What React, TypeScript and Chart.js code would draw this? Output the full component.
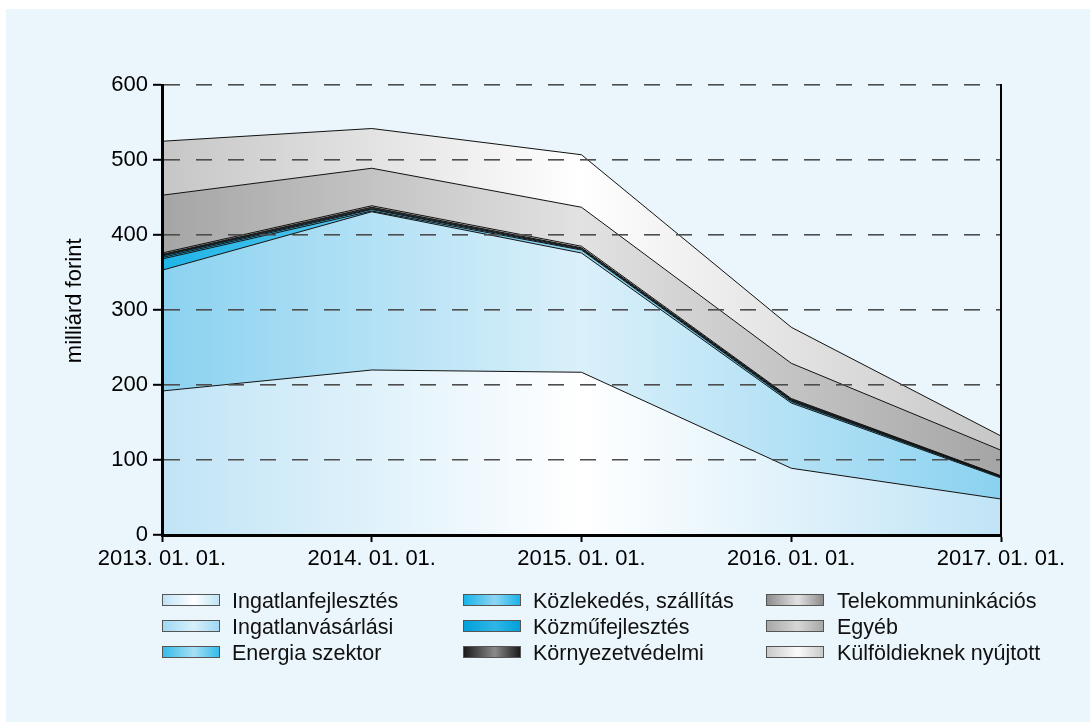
import React, { useEffect, useRef } from "react";
import { Chart, registerables } from "chart.js";

Chart.register(...registerables);

const categories = ["2013. 01. 01.", "2014. 01. 01.", "2015. 01. 01.", "2016. 01. 01.", "2017. 01. 01."];
const yTicks = [0, 100, 200, 300, 400, 500, 600];
const yTitle = "   milliárd forint";

const ingatlanfejlesztes = [192, 220, 217, 89, 48];
const ingatlanvasarlasi = [161, 211, 159, 87, 28];
const energiaSzektor = [15, 1, 4, 2, 1];
const kozlekedes = [2, 2, 1, 1, 0.5];
const kozmufejlesztes = [2, 1, 1, 1, 0.5];
const kornyezetvedelmi = [2, 2, 1, 1, 0.5];
const telekom = [2, 2, 2, 1, 0.5];
const egyeb = [77, 50, 52, 47, 34];
const kulfoldi = [72, 53, 70, 48, 19];

const seriesNames = [
  "Ingatlanfejlesztés",
  "Ingatlanvásárlási",
  "Energia szektor",
  "Közlekedés, szállítás",
  "Közműfejlesztés",
  "Környezetvédelmi",
  "Telekommuninkációs",
  "Egyéb",
  "Külföldieknek nyújtott",
];
const seriesValues = [
  ingatlanfejlesztes,
  ingatlanvasarlasi,
  energiaSzektor,
  kozlekedes,
  kozmufejlesztes,
  kornyezetvedelmi,
  telekom,
  egyeb,
  kulfoldi,
];
// [edge colour, centre colour]
const chartColors = [
  ["#c0e4f6", "#ffffff"],
  ["#8bd2f0", "#daf0fa"],
  ["#1fb5e8", "#8fd6f2"],
  ["#18b2e7", "#8dd5f2"],
  ["#009fdc", "#2eb5e6"],
  ["#151515", "#707070"],
  ["#8a8a8a", "#dedede"],
  ["#a5a5a5", "#e2e2e2"],
  ["#c6c6c6", "#ffffff"],
];
const swatchColors = [
  ["#bfe3f6", "#ffffff"],
  ["#9fd8f3", "#d8effa"],
  ["#35bce9", "#a8dff5"],
  ["#19b3e8", "#8fd6f2"],
  ["#00a0dc", "#30b6e7"],
  ["#1a1a1a", "#8a8a8a"],
  ["#8c8c8c", "#e2e2e2"],
  ["#a8a8a8", "#d6d6d6"],
  ["#c9c9c9", "#fbfbfb"],
];

const FONT = "'Liberation Sans', Arial, Helvetica, sans-serif";

function makeGradient(idx: number) {
  return (ctx: any) => {
    const chart = ctx.chart;
    const area = chart.chartArea;
    const [edge, centre] = chartColors[idx];
    if (!area) return edge;
    const g = chart.ctx.createLinearGradient(area.left, 0, area.right, 0);
    g.addColorStop(0, edge);
    g.addColorStop(0.5, centre);
    g.addColorStop(1, edge);
    return g;
  };
}

export default function App() {
  const canvasRef = useRef<HTMLCanvasElement | null>(null);

  useEffect(() => {
    if (!canvasRef.current) return;
    const datasets = seriesValues.map((vals, i) => ({
      label: seriesNames[i],
      data: vals,
      fill: i === 0 ? "origin" : "-1",
      backgroundColor: makeGradient(i),
      borderColor: "#111111",
      borderWidth: 1,
      pointRadius: 0,
      tension: 0,
    }));
    const chart = new Chart(canvasRef.current, {
      type: "line",
      data: { labels: categories, datasets: datasets as any },
      options: {
        animation: false,
        responsive: false,
        layout: { padding: { left: 0, right: 89, top: 85, bottom: 0 } },
        plugins: { legend: { display: false }, tooltip: { enabled: false } },
        scales: {
          x: {
            offset: false,
            grid: {
              drawOnChartArea: false,
              drawTicks: true,
              tickLength: 7,
              tickColor: "#000",
              tickWidth: 2,
              z: 2,
            },
            border: { display: true, color: "#000", width: 3, z: 3 },
            ticks: {
              color: "#000",
              font: { family: FONT, size: 22 },
              padding: 4,
              maxRotation: 0,
              autoSkip: false,
            },
            afterFit: (s: any) => {
              s.height = 55;
            },
          },
          y: {
            stacked: true,
            min: 0,
            max: 600,
            afterBuildTicks: (s: any) => {
              s.ticks = yTicks.map((v) => ({ value: v }));
            },
            grid: {
              color: "#4d4d4d",
              lineWidth: 1.6,
              drawTicks: true,
              tickLength: 9,
              tickColor: "#000",
              tickWidth: 2,
              z: 1,
            },
            border: { display: true, color: "#000", width: 3, dash: [16, 16], z: 3 },
            ticks: {
              color: "#000",
              font: { family: FONT, size: 22 },
              padding: 5,
            },
            title: {
              display: true,
              text: yTitle,
              color: "#000",
              font: { family: FONT, size: 22 },
              padding: { top: 62, bottom: 0 },
            },
            afterFit: (s: any) => {
              s.width = 162;
            },
          },
          yRight: {
            position: "right",
            display: true,
            min: 0,
            max: 600,
            grid: { drawOnChartArea: false, drawTicks: false },
            ticks: { display: false },
            border: { display: true, color: "#000", width: 2, z: 3 },
            afterFit: (s: any) => {
              s.width = 0;
            },
          },
        },
      } as any,
    });
    return () => chart.destroy();
  }, []);

  const cols = [
    { swatchX: 162, textX: 232 },
    { swatchX: 463, textX: 533 },
    { swatchX: 766, textX: 837 },
  ];
  const rowTops = [594, 620, 646];

  return (
    <div
      style={{
        position: "absolute",
        left: 0,
        top: 0,
        width: 1090,
        height: 722,
        background: "#ffffff",
        overflow: "hidden",
        fontFamily: FONT,
      }}
    >
      <div
        style={{
          position: "absolute",
          left: 6,
          top: 9,
          right: 0,
          bottom: 0,
          background: "#eaf5fc",
        }}
      />
      <canvas
        ref={canvasRef}
        width={1090}
        height={590}
        style={{ position: "absolute", left: 0, top: 0, width: 1090, height: 590 }}
      />
      {seriesNames.map((name, i) => {
        const col = cols[Math.floor(i / 3)];
        const top = rowTops[i % 3];
        const [edge, centre] = swatchColors[i];
        return (
          <React.Fragment key={name}>
            <div
              style={{
                position: "absolute",
                left: col.swatchX,
                top: top,
                width: 56,
                height: 10,
                border: "1px solid #555",
                background: `linear-gradient(to right, ${edge} 0%, ${centre} 55%, ${edge} 100%)`,
              }}
            />
            <div
              style={{
                position: "absolute",
                left: col.textX,
                top: top - 6,
                height: 26,
                lineHeight: "26px",
                fontSize: 21.5,
                color: "#111",
                whiteSpace: "nowrap",
              }}
            >
              {name}
            </div>
          </React.Fragment>
        );
      })}
    </div>
  );
}
